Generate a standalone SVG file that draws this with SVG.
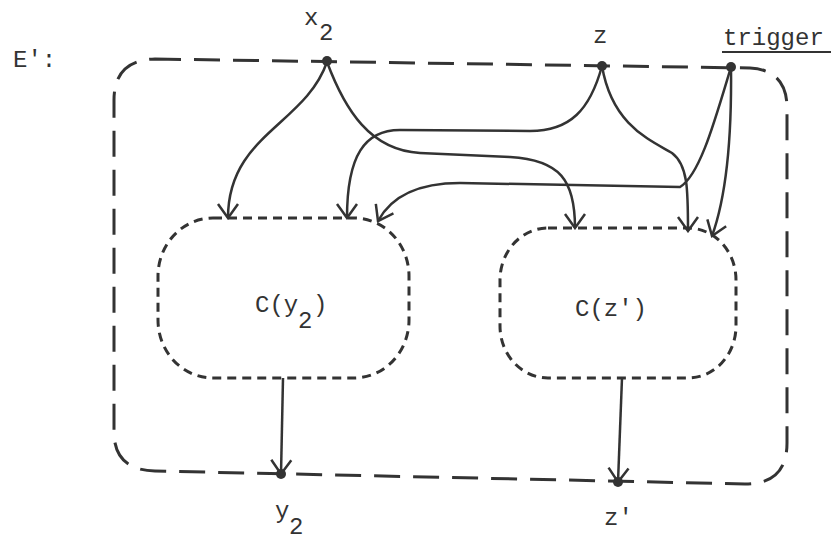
<svg xmlns="http://www.w3.org/2000/svg" width="839" height="541" viewBox="0 0 839 541">
<style>
text{font-family:"Liberation Mono","DejaVu Sans Mono",monospace;font-size:24px;fill:#333}
.outer{fill:none;stroke:#333;stroke-width:3;stroke-dasharray:26 13}
.inner{fill:none;stroke:#333;stroke-width:3;stroke-dasharray:9 6}
.c{fill:none;stroke:#333;stroke-width:2.5;marker-end:url(#a)}
.dot{fill:#333}
</style>
<defs>
<marker id="a" viewBox="-16 -12 18 24" refX="0" refY="0" markerWidth="18" markerHeight="24" markerUnits="userSpaceOnUse" orient="auto">
<path d="M-14,-10 L0,0 L-14,10" fill="none" stroke="#333" stroke-width="2.5"/>
</marker>
</defs>
<rect width="839" height="541" fill="#fff"/>
<g id="E">
<path class="outer" d="M155,59 L750,68 Q787,70 787,108 L787,443 Q787,484 745,484 L155,471 Q114,470 114,432 L114,100 Q114,60 155,59 Z"/>
<text x="13" y="67">E':</text>
</g>
<g id="Cy2">
<rect class="inner" x="158" y="218" width="251" height="160" rx="55" ry="58"/>
<text x="255" y="312">C(y</text><text x="298" y="328">2</text><text x="313" y="312">)</text>
</g>
<g id="Cz">
<rect class="inner" x="500" y="228" width="236" height="150" rx="48" ry="52"/>
<text x="575" y="316">C(z')</text>
</g>
<g id="x2">
<circle class="dot" cx="327" cy="61" r="5"/>
<text x="304" y="25">x</text><text x="319" y="40">2</text>
</g>
<g id="z">
<circle class="dot" cx="602" cy="66" r="5"/>
<text x="593" y="43">z</text>
</g>
<g id="trigger">
<circle class="dot" cx="731" cy="67" r="5"/>
<text x="723" y="45">trigger</text>
<line x1="722" y1="52" x2="831" y2="52" stroke="#333" stroke-width="2"/>
</g>
<g id="y2">
<circle class="dot" cx="281" cy="474" r="5"/>
<text x="275" y="518">y</text><text x="289" y="534">2</text>
</g>
<g id="zp">
<circle class="dot" cx="618" cy="482" r="5"/>
<text x="604" y="525">z'</text>
</g>
<g id="connectors">
<path class="c" d="M327,62 C305,125 228,135 228,218"/>
<path class="c" d="M602,66 C590,110 570,131 530,131 L400,130 C365,130 347,155 347,218"/>
<path class="c" d="M731,67 C715,120 700,175 680,187 L460,183 C420,183 392,195 378,221"/>
<path class="c" d="M327,62 C345,110 370,150 420,153 L510,157 C560,160 575,180 575,228"/>
<path class="c" d="M602,66 C612,125 650,140 672,153 C688,165 688,190 688,231"/>
<path class="c" d="M731,67 C732,150 725,200 712,236"/>
<path class="c" d="M283,378 L281,474"/>
<path class="c" d="M622,378 L618,482"/>
</g>
</svg>
